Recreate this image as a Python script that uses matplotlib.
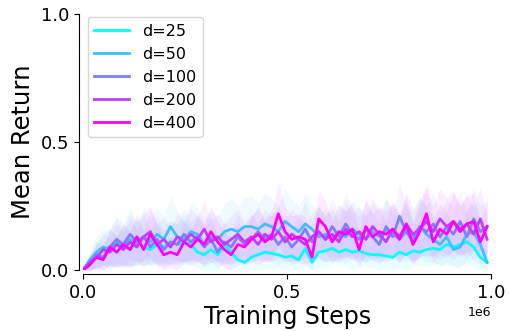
"""Mean return vs training steps for different d values (cool colormap)."""
import matplotlib
matplotlib.use("Agg")
import matplotlib.pyplot as plt
import numpy as np

N_POINTS = 61
steps = np.arange(N_POINTS) * 16500

labels = ["d=25", "d=50", "d=100", "d=200", "d=400"]

d25 = [0.00, 0.03, 0.06, 0.08, 0.09, 0.07, 0.10, 0.08, 0.11, 0.09, 0.08,
       0.10, 0.09, 0.11, 0.10, 0.11, 0.10, 0.07, 0.06, 0.08, 0.06, 0.10,
       0.07, 0.04, 0.03, 0.05, 0.06, 0.07, 0.065, 0.06, 0.05, 0.055, 0.04,
       0.085, 0.03, 0.07, 0.075, 0.085, 0.07, 0.08, 0.07, 0.075, 0.065,
       0.06, 0.06, 0.055, 0.05, 0.07, 0.06, 0.075, 0.07, 0.08, 0.085,
       0.08, 0.10, 0.09, 0.10, 0.11, 0.09, 0.05, 0.03]
d50 = [0.00, 0.04, 0.07, 0.09, 0.08, 0.11, 0.09, 0.12, 0.10, 0.13, 0.11,
       0.14, 0.12, 0.17, 0.13, 0.12, 0.15, 0.14, 0.10, 0.13, 0.12, 0.15,
       0.16, 0.15, 0.17, 0.17, 0.16, 0.18, 0.17, 0.15, 0.19, 0.17, 0.15,
       0.18, 0.16, 0.13, 0.14, 0.12, 0.15, 0.13, 0.16, 0.14, 0.12, 0.15,
       0.13, 0.16, 0.14, 0.12, 0.15, 0.13, 0.17, 0.14, 0.12, 0.10, 0.13,
       0.08, 0.09, 0.14, 0.15, 0.10, 0.03]
d100 = [0.00, 0.02, 0.06, 0.05, 0.09, 0.12, 0.10, 0.14, 0.11, 0.13, 0.09,
        0.12, 0.08, 0.11, 0.10, 0.14, 0.11, 0.13, 0.09, 0.12, 0.07, 0.11,
        0.09, 0.13, 0.10, 0.12, 0.15, 0.12, 0.14, 0.10, 0.13, 0.09, 0.12,
        0.16, 0.11, 0.15, 0.12, 0.17, 0.13, 0.18, 0.14, 0.12, 0.16, 0.13,
        0.10, 0.17, 0.13, 0.21, 0.15, 0.11, 0.17, 0.15, 0.18, 0.13, 0.17,
        0.14, 0.19, 0.13, 0.20, 0.15, 0.17]
d200 = [0.00, 0.03, 0.05, 0.08, 0.07, 0.10, 0.08, 0.11, 0.09, 0.13, 0.15,
        0.10, 0.12, 0.09, 0.13, 0.11, 0.14, 0.12, 0.16, 0.11, 0.13, 0.10,
        0.12, 0.14, 0.11, 0.13, 0.10, 0.14, 0.12, 0.15, 0.11, 0.14, 0.12,
        0.10, 0.13, 0.15, 0.12, 0.14, 0.11, 0.16, 0.13, 0.15, 0.12, 0.17,
        0.14, 0.11, 0.16, 0.13, 0.18, 0.14, 0.16, 0.19, 0.15, 0.20, 0.17,
        0.19, 0.16, 0.18, 0.14, 0.20, 0.12]
d400 = [0.00, 0.02, 0.05, 0.04, 0.09, 0.07, 0.10, 0.08, 0.13, 0.08, 0.14,
        0.10, 0.06, 0.07, 0.06, 0.11, 0.09, 0.12, 0.10, 0.15, 0.11, 0.08,
        0.06, 0.10, 0.09, 0.12, 0.14, 0.11, 0.13, 0.22, 0.15, 0.12, 0.13,
        0.12, 0.05, 0.20, 0.17, 0.11, 0.15, 0.14, 0.16, 0.08, 0.17, 0.13,
        0.15, 0.14, 0.16, 0.12, 0.18, 0.10, 0.15, 0.22, 0.11, 0.16, 0.14,
        0.19, 0.15, 0.18, 0.19, 0.11, 0.17]

# band half-widths (std across seeds)
s25 = [0.00, 0.03, 0.05, 0.06, 0.07, 0.06, 0.08, 0.07, 0.09, 0.07, 0.06,
       0.08, 0.07, 0.09, 0.08, 0.09, 0.08, 0.06, 0.07, 0.08, 0.06, 0.07,
       0.06, 0.05, 0.04, 0.05, 0.06, 0.07, 0.06, 0.05, 0.06, 0.05, 0.05,
       0.07, 0.05, 0.06, 0.07, 0.06, 0.05, 0.06, 0.07, 0.06, 0.05, 0.05,
       0.06, 0.05, 0.05, 0.06, 0.07, 0.06, 0.05, 0.06, 0.07, 0.06, 0.08,
       0.07, 0.08, 0.09, 0.07, 0.05, 0.04]
s50 = [0.00, 0.04, 0.06, 0.07, 0.08, 0.09, 0.07, 0.10, 0.08, 0.11, 0.09,
       0.10, 0.09, 0.12, 0.10, 0.09, 0.11, 0.10, 0.09, 0.10, 0.09, 0.11,
       0.12, 0.10, 0.11, 0.12, 0.10, 0.12, 0.11, 0.10, 0.13, 0.11, 0.10,
       0.12, 0.10, 0.09, 0.10, 0.09, 0.11, 0.10, 0.11, 0.10, 0.09, 0.11,
       0.10, 0.12, 0.10, 0.09, 0.11, 0.10, 0.12, 0.11, 0.09, 0.08, 0.10,
       0.07, 0.08, 0.10, 0.11, 0.08, 0.05]
s100 = [0.00, 0.03, 0.05, 0.05, 0.07, 0.09, 0.08, 0.10, 0.08, 0.09, 0.07,
        0.09, 0.07, 0.08, 0.08, 0.10, 0.08, 0.09, 0.07, 0.09, 0.06, 0.08,
        0.07, 0.09, 0.08, 0.09, 0.10, 0.08, 0.10, 0.08, 0.09, 0.07, 0.09,
        0.11, 0.08, 0.10, 0.09, 0.11, 0.09, 0.12, 0.10, 0.09, 0.11, 0.09,
        0.08, 0.11, 0.09, 0.13, 0.10, 0.08, 0.11, 0.10, 0.12, 0.09, 0.11,
        0.10, 0.12, 0.09, 0.12, 0.10, 0.11]
s200 = [0.00, 0.03, 0.05, 0.06, 0.06, 0.08, 0.07, 0.09, 0.07, 0.09, 0.10,
        0.08, 0.09, 0.07, 0.09, 0.08, 0.10, 0.09, 0.11, 0.08, 0.09, 0.08,
        0.09, 0.10, 0.08, 0.09, 0.08, 0.10, 0.09, 0.10, 0.08, 0.10, 0.09,
        0.08, 0.09, 0.10, 0.09, 0.10, 0.08, 0.11, 0.09, 0.10, 0.09, 0.11,
        0.10, 0.08, 0.11, 0.09, 0.12, 0.10, 0.11, 0.13, 0.10, 0.12, 0.11,
        0.12, 0.10, 0.11, 0.10, 0.12, 0.09]
s400 = [0.00, 0.03, 0.04, 0.04, 0.07, 0.06, 0.08, 0.07, 0.09, 0.07, 0.10,
        0.08, 0.06, 0.06, 0.06, 0.08, 0.07, 0.09, 0.08, 0.10, 0.08, 0.07,
        0.06, 0.08, 0.07, 0.09, 0.10, 0.08, 0.09, 0.12, 0.10, 0.09, 0.09,
        0.09, 0.06, 0.11, 0.10, 0.08, 0.10, 0.09, 0.10, 0.07, 0.11, 0.09,
        0.10, 0.09, 0.10, 0.09, 0.11, 0.08, 0.10, 0.12, 0.08, 0.10, 0.09,
        0.11, 0.10, 0.11, 0.11, 0.08, 0.10]

means = [d25, d50, d100, d200, d400]
spreads = [s25, s50, s100, s200, s400]

cmap = plt.get_cmap("cool")
colors = [cmap(v) for v in np.linspace(0, 1, len(labels))]

fig = plt.figure(figsize=(5.09, 3.31), dpi=100)
ax = fig.add_axes([0.163, 0.184, 0.802, 0.774])

for lab, m, s, c in zip(labels, means, spreads, colors):
    m = np.array(m)
    s = np.array(s)
    ax.fill_between(steps, np.clip(m - s, 0, None), m + s, color=c, alpha=0.08, linewidth=0)
    ax.plot(steps, m, color=c, linewidth=2, label=lab)

ax.set_xlim(0, 1e6)
ax.set_ylim(0, 1.0)
ax.set_xticks([0, 0.5e6, 1e6])
ax.set_yticks([0, 0.5, 1.0])
ax.tick_params(labelsize=13)
ax.xaxis.get_offset_text().set_fontsize(9)
ax.set_xlabel("Training Steps", fontsize=17, labelpad=2)
ax.set_ylabel("Mean Return", fontsize=17.5)
for spine in ("top", "right"):
    ax.spines[spine].set_visible(False)
ax.spines["left"].set_position(("outward", 3))
ax.spines["bottom"].set_position(("outward", 3))

ax.legend(loc="upper left", fontsize=11.5, handlelength=2.2,
          bbox_to_anchor=(-0.008, 1.018))

fig.savefig("out.png", dpi=100)
